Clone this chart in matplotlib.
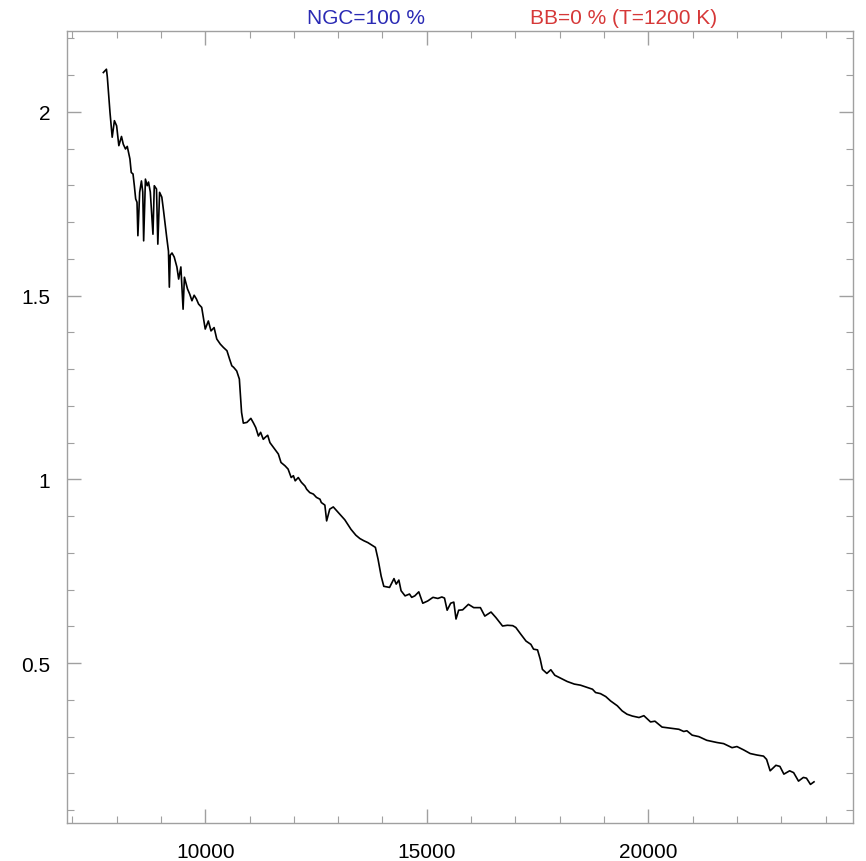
import matplotlib
matplotlib.use("Agg")
import matplotlib.pyplot as plt
from matplotlib.ticker import MultipleLocator, FixedLocator

plt.rcParams['font.family'] = ['Liberation Sans', 'DejaVu Sans']

wavelength = [
    7700, 7770, 7790, 7850, 7900, 7950, 8000, 8050, 8110, 8150,
    8200, 8240, 8300, 8330, 8370, 8400, 8430, 8460, 8480, 8520,
    8560, 8590, 8610, 8650, 8690, 8720, 8760, 8820, 8850, 8900,
    8930, 8970, 9020, 9060, 9130, 9170, 9190, 9210, 9250, 9300,
    9360, 9400, 9450, 9500, 9530, 9600, 9650, 9700, 9750, 9800,
    9850, 9920, 10000, 10070, 10130, 10200, 10260, 10340, 10410, 10490,
    10550, 10600, 10640, 10710, 10770, 10820, 10860, 10940, 11030, 11090,
    11140, 11200, 11250, 11310, 11360, 11410, 11460, 11540, 11650, 11710,
    11800, 11870, 11940, 11990, 12030, 12100, 12170, 12250, 12290, 12360,
    12440, 12510, 12590, 12620, 12700, 12740, 12810, 12890, 13000, 13070,
    13150, 13290, 13400, 13490, 13580, 13670, 13840, 13900, 13970, 14030,
    14160, 14260, 14310, 14370, 14420, 14510, 14610, 14660, 14730, 14820,
    14910, 15020, 15140, 15250, 15340, 15400, 15460, 15540, 15610, 15660,
    15720, 15810, 15940, 16060, 16210, 16310, 16450, 16560, 16710, 16820,
    16940, 17010, 17120, 17240, 17350, 17410, 17500, 17560, 17610, 17710,
    17800, 17890, 18020, 18170, 18330, 18470, 18620, 18740, 18810, 18920,
    19040, 19150, 19300, 19410, 19520, 19640, 19790, 19900, 20050, 20150,
    20310, 20500, 20690, 20800, 20870, 20990, 21140, 21320, 21550, 21700,
    21890, 22000, 22150, 22300, 22450, 22600, 22670, 22750, 22810, 22880,
    22970, 23060, 23190, 23280, 23390, 23500, 23570, 23660, 23740,
]

flux = [
    2.107, 2.116, 2.095, 1.999, 1.931, 1.976, 1.962, 1.908, 1.933, 1.912,
    1.899, 1.906, 1.872, 1.835, 1.831, 1.799, 1.763, 1.754, 1.663, 1.781,
    1.812, 1.782, 1.649, 1.817, 1.799, 1.809, 1.782, 1.667, 1.799, 1.790,
    1.640, 1.781, 1.768, 1.730, 1.659, 1.621, 1.523, 1.610, 1.616, 1.605,
    1.578, 1.545, 1.578, 1.463, 1.550, 1.518, 1.504, 1.486, 1.501, 1.491,
    1.477, 1.468, 1.409, 1.431, 1.404, 1.413, 1.382, 1.368, 1.359, 1.350,
    1.327, 1.309, 1.305, 1.295, 1.273, 1.182, 1.153, 1.155, 1.166, 1.153,
    1.141, 1.118, 1.128, 1.109, 1.115, 1.120, 1.100, 1.087, 1.069, 1.046,
    1.037, 1.028, 1.005, 1.010, 0.996, 1.005, 0.992, 0.982, 0.973, 0.964,
    0.960, 0.951, 0.946, 0.937, 0.930, 0.887, 0.919, 0.925, 0.910, 0.900,
    0.890, 0.864, 0.848, 0.839, 0.833, 0.828, 0.815, 0.783, 0.737, 0.709,
    0.706, 0.730, 0.715, 0.726, 0.697, 0.683, 0.688, 0.679, 0.683, 0.694,
    0.663, 0.669, 0.679, 0.676, 0.680, 0.677, 0.644, 0.663, 0.666, 0.620,
    0.644, 0.645, 0.660, 0.651, 0.651, 0.628, 0.639, 0.624, 0.601, 0.603,
    0.602, 0.597, 0.579, 0.560, 0.551, 0.538, 0.536, 0.511, 0.483, 0.472,
    0.482, 0.467, 0.459, 0.450, 0.443, 0.440, 0.434, 0.429, 0.420, 0.417,
    0.409, 0.397, 0.384, 0.370, 0.361, 0.356, 0.352, 0.357, 0.340, 0.342,
    0.326, 0.323, 0.320, 0.314, 0.316, 0.304, 0.300, 0.290, 0.284, 0.281,
    0.270, 0.273, 0.264, 0.254, 0.250, 0.247, 0.238, 0.207, 0.214, 0.222,
    0.219, 0.198, 0.207, 0.202, 0.179, 0.189, 0.187, 0.170, 0.177,
]

x_major = [10000, 15000, 20000]
x_labels = ["10000", "15000", "20000"]
y_major = [0.5, 1.0, 1.5, 2.0]
y_labels = ["0.5", "1", "1.5", "2"]

title_left = "NGC=100 %"
title_right = "BB=0 % (T=1200 K)"

fig = plt.figure(figsize=(8.66, 8.62), dpi=100)
ax = fig.add_axes([67/866, 1 - 824/862, (853 - 67)/866, (824 - 32)/862])

ax.plot(wavelength, flux, color='black', lw=1.2)

ax.set_xlim(6880, 24620)
ax.set_ylim(0.065, 2.22)

ax.xaxis.set_major_locator(FixedLocator(x_major))
ax.set_xticklabels(x_labels)
ax.xaxis.set_minor_locator(MultipleLocator(1000))
ax.yaxis.set_major_locator(FixedLocator(y_major))
ax.set_yticklabels(y_labels)
ax.yaxis.set_minor_locator(MultipleLocator(0.1))

frame_col = '#a0a0a0'
for s in ax.spines.values():
    s.set_color(frame_col)
    s.set_linewidth(1.0)

ax.tick_params(which='both', direction='in', top=True, right=True,
               color=frame_col, labelsize=15, labelcolor='black')
ax.tick_params(which='major', length=10, width=1.0)
ax.tick_params(which='minor', length=5, width=0.8)
ax.tick_params(axis='x', which='major', pad=14)
ax.tick_params(axis='y', which='major', pad=12)

fig.text(366/866, 1 - 18/862, title_left, color='#2a2ab4', fontsize=15,
         ha='center', va='center')
fig.text(624/866, 1 - 18/862, title_right, color='#d63838', fontsize=15,
         ha='center', va='center')

fig.savefig("out.png", dpi=100)
